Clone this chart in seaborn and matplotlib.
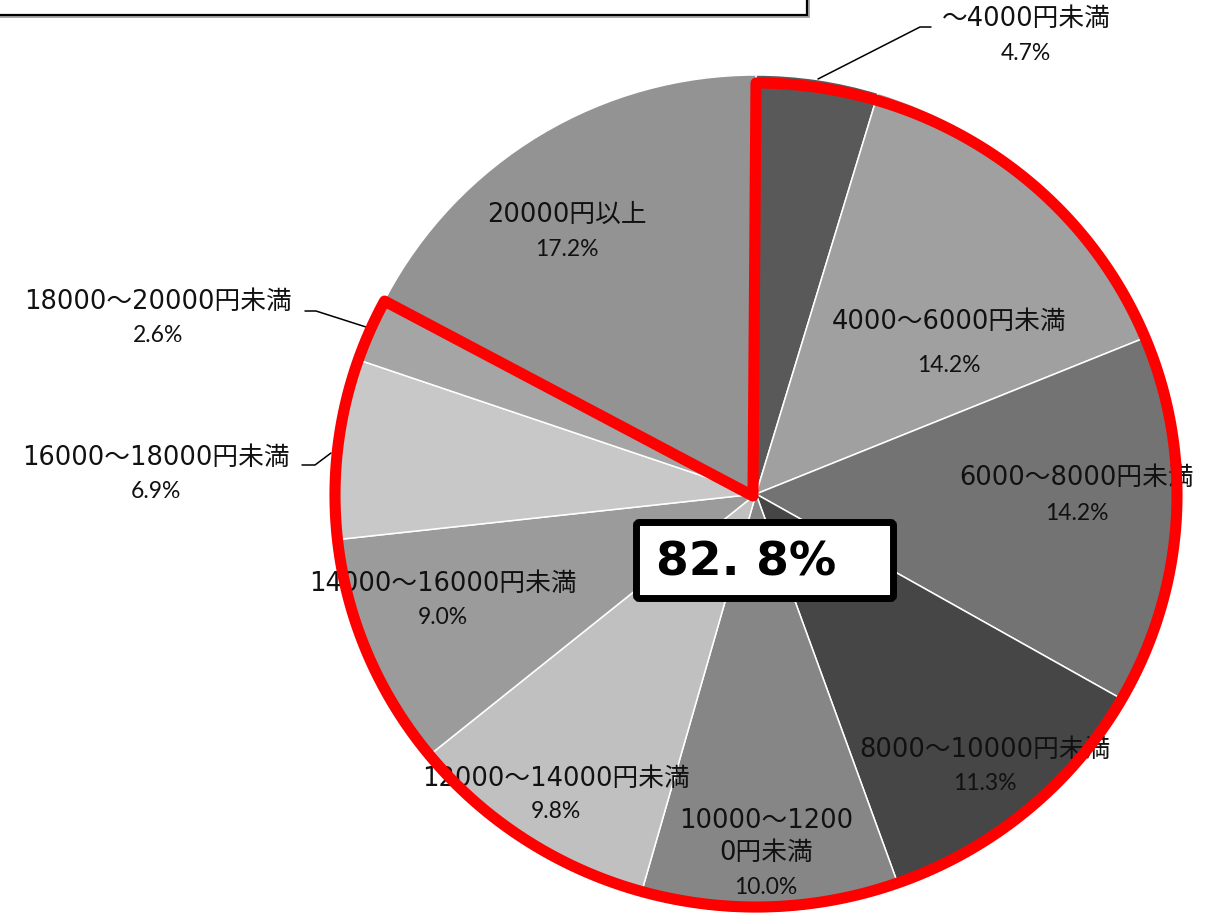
import numpy as np
import matplotlib
matplotlib.use("Agg")
import matplotlib.pyplot as plt
from matplotlib.patches import Polygon, FancyBboxPatch, Rectangle
import seaborn as sns

# ---- data -------------------------------------------------------------
categories = [
    "～4000円未満",
    "4000～6000円未満",
    "6000～8000円未満",
    "8000～10000円未満",
    "10000～1200\n0円未満",
    "12000～14000円未満",
    "14000～16000円未満",
    "16000～18000円未満",
    "18000～20000円未満",
    "20000円以上",
]
shares = [4.7, 14.2, 14.2, 11.3, 10.0, 9.8, 9.0, 6.9, 2.6, 17.2]
slice_colors = ["#595959", "#a0a0a0", "#737373", "#464646", "#868686",
                "#c0c0c0", "#9b9b9b", "#c8c8c8", "#a5a5a5", "#939393"]
# all brackets below 20000 yen are highlighted together
highlight_count = 9

# ---- layout (pixel space, y measured from the top) --------------------
W, H = 1206, 919
CX, CY, R = 756, 494, 419
label_pos = [(1026, 19), (949, 322), (1077, 478), (985, 750), (766, 837),
             (556, 779), (443, 584), (156, 458), (158, 302), (567, 215)]
pct_gap = [34, 44, 35, 33, 51, 33, 34, 34, 34, 35]
leaders = {
    0: [(818, 79), (920, 27), (931, 27)],
    7: [(331, 453), (315, 465), (302, 465)],
    8: [(366, 327), (316, 311), (305, 311)],
}

sns.set_theme(style="white")
plt.rcParams["font.family"] = ["DejaVu Sans", "Noto Sans CJK JP"]

fig = plt.figure(figsize=(W / 100, H / 100), dpi=100)
ax = fig.add_axes([0, 0, 1, 1])


def P(x, y):
    return x, H - y


palette = sns.color_palette(slice_colors)
ax.pie(shares, colors=palette, startangle=90, counterclock=False,
       center=P(CX, CY), radius=R,
       wedgeprops=dict(edgecolor="white", linewidth=1.1))

# highlight outline around the selected brackets (share of 100%)
sel = 100 - sum(shares[highlight_count:])
theta = np.radians(np.linspace(90, 90 - 360 * sel / 100, 400))
hx, hy = 756, 495
rx, ry = 421, 412
arc = np.column_stack([hx + rx * np.cos(theta), (H - hy) + ry * np.sin(theta)])
outline = np.vstack([[hx - 3, H - 496], arc])
ax.add_patch(Polygon(outline, closed=True, fill=False, edgecolor="#ff0000",
                     linewidth=8, joinstyle="round", zorder=7))

# slice labels
for i, (name, val) in enumerate(zip(categories, shares)):
    x, y = label_pos[i]
    ax.text(*P(x, y), name, ha="center", va="center", fontsize=18.5,
            color="#111111", linespacing=1.35, zorder=6,
            family=["DejaVu Sans", "Noto Sans CJK JP"])
    ax.text(*P(x, y + pct_gap[i]), f"{val:.1f}%", ha="center", va="center",
            fontsize=16.5, color="#111111", family="Lato", zorder=6)

for pts in leaders.values():
    xs, ys = zip(*[P(*p) for p in pts])
    ax.plot(xs, ys, color="black", linewidth=1.1, zorder=6)

# summary box
bx0, by0, bx1, by1 = 636.5, 522.5, 893.5, 598.5
ax.add_patch(FancyBboxPatch((bx0, H - by1), bx1 - bx0, by1 - by0,
                            boxstyle="round,pad=0,rounding_size=3",
                            facecolor="white", edgecolor="black",
                            linewidth=5, zorder=8))
summary = f"{sel:.1f}".replace(".", ". ") + "%"
ax.text(*P(656, 563), summary, ha="left", va="center", fontsize=34,
        fontweight="bold", family="DejaVu Sans", color="black", zorder=9)

# frame of the caption box above the chart
ax.add_patch(Rectangle((-5, H - 17), 814, 30, facecolor="none",
                       edgecolor="#9a9a9a", linewidth=1.2, zorder=3))
ax.add_patch(Rectangle((-5, H - 15), 812, 30, facecolor="white",
                       edgecolor="black", linewidth=1.6, zorder=4))

ax.set_xlim(0, W)
ax.set_ylim(0, H)
ax.set_aspect("equal")
ax.axis("off")

fig.savefig("out.png", dpi=100)
